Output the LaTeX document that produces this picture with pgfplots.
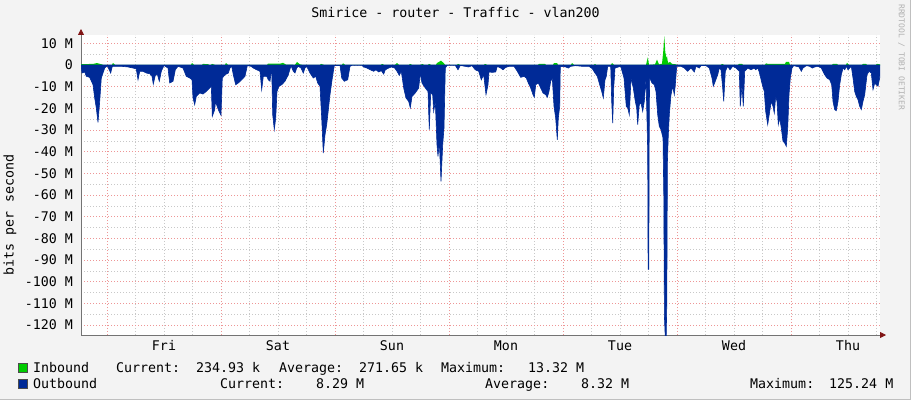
\documentclass[border=0pt]{standalone}
\usepackage{fontspec}
\setmonofont{DejaVu Sans Mono}
\usepackage{pgfplots}
\pgfplotsset{compat=1.18}
\usetikzlibrary{arrows.meta}
\definecolor{ingreen}{RGB}{0,204,0}
\definecolor{outblue}{RGB}{0,42,151}
\definecolor{bggray}{RGB}{243,243,243}
\definecolor{gridred}{RGB}{238,150,150}
\definecolor{gridgray}{RGB}{200,200,200}
\definecolor{arrred}{RGB}{128,20,20}
\newcommand{\rrd}{\fontsize{13.3}{15}\ttfamily}

\begin{document}
\begin{tikzpicture}[x=1pt,y=1pt]
\useasboundingbox (0,0) rectangle (911,400);
\fill[bggray] (0,0) rectangle (911,400);
\draw[black!25, line width=1.5pt] (0,0.75) -- (910.25,0.75) -- (910.25,400);
\node[font=\rrd] at (455.5,387) {Smirice - router - Traffic - vlan200};
\node[font=\rrd, rotate=90] at (10,185) {bits per second};
\node[font=\fontsize{8}{9}\ttfamily, text=black!30, rotate=-90, anchor=south west, inner sep=0pt] at (898,396) {RRDTOOL / TOBI OETIKER};

\begin{axis}[
  at={(81pt,65pt)}, anchor=south west,
  width=799pt, height=300pt, scale only axis,
  xmin=81, xmax=880, ymin=-124.6, ymax=13.85,
  axis background/.style={fill=white},
  axis lines=left,
  axis line style={draw=black!55, line width=0.8pt, shorten >=-6pt, -{Triangle[length=6pt,width=6pt,color=arrred]}},
  major tick length=0pt, minor tick length=0pt,
  xtick={164,278,392,506,620,734,848},
  xticklabels={Fri,Sat,Sun,Mon,Tue,Wed,Thu},
  minor xtick={135.5,164,192.5,249.5,278,306.5,363.5,392,420.5,477.5,506,534.5,591.5,620,648.5,705.5,734,762.5,819.5,848,876.5},
  extra x ticks={107,221,335,449,563,677,791},
  extra x tick labels={},
  extra x tick style={grid=major},
  xminorgrids=true,
  ytick={-120,-110,-100,-90,-80,-70,-60,-50,-40,-30,-20,-10,0,10},
  yticklabels={-120 M,-110 M,-100 M,-90 M,-80 M,-70 M,-60 M,-50 M,-40 M,-30 M,-20 M,-10 M,0,10 M},
  minor ytick={-115,-105,-95,-85,-75,-65,-55,-45,-35,-25,-15,-5,5},
  ymajorgrids=true, yminorgrids=true,
  major grid style={draw=gridred, line width=0.7pt, dash pattern=on 1pt off 2pt},
  minor grid style={draw=gridgray, line width=0.7pt, dash pattern=on 1pt off 2pt},
  tick label style={font=\rrd},
  yticklabel style={anchor=east, inner sep=0pt, xshift=-8pt},
  xticklabel style={anchor=base, inner sep=0pt, yshift=-15.5pt},
]
% inbound (M)
\addplot[draw=none, fill=ingreen] coordinates {
(81,0.4) (93,0.5) (97,0.9) (101,0.4) (103,0.1) (112,0.1) (113,0.9) (115,0.1)
(191,0.1) (192,0.9) (194,0.1) (202,0.1) (203,0.5) (208,0.4) (209,0.1) (211,0.1) (212,0.5) (215,0.1)
(225,0.1) (226,0.9) (228,0.1) (267,0.1) (268,0.6) (280,0.6) (283,1.0) (286,0.2) (295,0.1) (297,1.4) (300,0.3) (302,0.1)
(320,0.1) (321,0.5) (324,0.1) (342,0.1) (343,0.8) (345,0.1) (381,0.1) (382,0.5) (384,0.1)
(395,0.1) (397,0.9) (399,0.1) (409,0.1) (410,0.5) (412,0.1) (421,0.1) (422,0.5) (424,0.1)
(428,0.1) (429,0.5) (431,0.1) (436,0.1) (437,0.9) (441,2.0) (444,0.8) (445,0.1)
(457,0.1) (458,0.5) (460,0.1) (484,0.1) (485,0.5) (487,0.1)
(538,0.1) (539,0.5) (545,0.5) (546,0.1) (553,0.1) (554,0.9) (557,0.9) (558,0.1) (571,0.1) (572,0.9) (574,0.1)
(594,0.1) (595,0.5) (596,0.1) (611,0.1) (612,0.9) (614,0.1)
(646,0.1) (647,2.0) (647.8,3.5) (649,0.1) (655,0.3) (657,2.5) (659,0.3) (662,0.6) (663.2,6) (664.3,13.3) (665.3,6) (666.5,3) (667,4) (668,1) (670,1.4) (672,0.5) (675,0.4) (677,0.1)
(721,0.1) (722,0.5) (724,0.1) (738,0.1) (739,0.5) (742,0.5) (743,0.1)
(765,0.1) (766,0.8) (768,0.5) (785,0.5) (786,1.4) (789,1.4) (790,0.1)
(832,0.1) (833,0.5) (837,0.5) (838,0.1) (846,0.1) (847,1.0) (849,0.1)
(862,0.1) (863,0.5) (866,0.5) (867,0.1) (876,0.1) (877,0.5) (880,0.3) (880,0)
} \closedcycle;
% outbound (M, drawn negative)
\addplot[draw=outblue, line width=0.6pt, fill=outblue] coordinates {
(81,0) (81.5,-1.5) (82,-3.7) (84.7,-3.2) (86.3,-5.2) (89.7,-5.7) (93,-9.1) (94.7,-15.2) (96.3,-19.8) (98,-26.5) (99.7,-16.8) (101.3,-6) (104.7,-1.4) (107.3,-0.3)
(110.7,-3.7) (112.3,-0.6) (121.3,-0.6) (128,-0.9) (133,-1.4) (136.3,-1.8) (138,-6.8) (139.7,-2.9) (143,-2.9) (146.3,-3.7) (149.7,-4) (152,-5.2) (153.3,-8.8) (155.3,-4.8) (157.3,-4.2) (159.3,-7.5) (161.3,-2.9) (164,-0.2)
(168,-1.4) (169.7,-8.3) (173,-7.5) (175.3,-2.2) (178,-0.6) (183,-1.4) (186.3,-5.2) (189.7,-6) (192,-6.8) (193,-15.2) (194.7,-18.3) (196.3,-14.5) (199.7,-12.9) (203,-13.4) (206.3,-12.2) (209.7,-10.6) (211.3,-9.8) (212.3,-23.7) (214.7,-20.6)
(215.5,-16.8) (218.3,-20.6) (221,-23.2) (222.3,-6) (225,-4.5) (228.3,-3.7) (230,-1.4) (231.7,-0.6) (233.3,-4.5) (235.7,-9.1) (238.3,-8.3) (241.7,-6.8) (245,-5.2) (247.3,-0.3)
(251,-0.6) (253.3,-1.4) (256.7,-2.2) (260,-2.9) (261.7,-11.4) (263.3,-5.2) (266.7,-5.2) (268.3,-6.8) (270,-7.5) (271.7,-1.4) (272.7,-22.9) (274.3,-29.8) (275.7,-24.5) (277,-12.2) (279,-9.8) (281.7,-9.1) (285,-7.5) (288.3,-4.5) (291,-0.3)
(293.3,-2.9) (295,-3.7) (296.7,-1.4) (298.3,-0.6) (301,-1.4) (303.3,-3.7) (305,-1.4) (306.7,-0.6) (310,-3.7) (313.3,-6) (315.7,-5.2) (317.7,-8.3) (320,-9.8) (321.7,-24.5) (323.3,-40.6) (325,-32.2) (326.7,-27.5) (330,-13.7) (332.3,-6) (334.3,-0.3)
(340,-0.2) (341.7,-6) (344.3,-7.5) (347.7,-6.8) (350,-0.6) (351.7,-0.2) (362,-0.2) (363.7,-0.9) (367,-1.4) (370.3,-2.2) (373.7,-2.9) (376,-2.2) (378.7,-3.2) (381.3,-2.6) (383.7,-4.2) (385.3,-2.2) (388.7,-1.4) (391.3,-0.9) (394.7,-1.4)
(397,-2.9) (399.3,-4.8) (401.3,-2.9) (403.7,-10.6) (406,-15.2) (408.7,-16.8) (410.3,-19.8) (412,-14.5) (415.3,-12.9) (418.7,-10.6) (420.3,-3.7) (422,-8.3) (425.3,-10.6) (428,-12.2) (429.3,-29.8) (430.7,-12.9) (432.7,-13.7) (433.7,-21.4) (435.3,-16.8)
(437,-36.8) (438,-42.2) (439.3,-35.2) (441,-53.7) (442.7,-36.8) (444,-29.1) (445.3,-1.4) (447,-0.2) (455.3,-0.2) (458,-2.2) (460.3,-0.2) (468.7,-0.9) (472,-0.3) (475.3,-2.2) (478.7,-2.9) (481.3,-6.8) (483.7,-4.5) (486,-13.7) (488,-9.1)
(489,-3.2) (492.3,-3.4) (495.7,-3.2) (497.3,-0.6) (500.7,-1.4) (503,-2.2) (505.7,-1.1) (509,-0.6) (514,-0.6) (517.3,-2.9) (520.7,-5.7) (524,-5.2) (526.3,-6) (528.3,-8.3) (530.7,-10.6) (533,-13.7) (534.3,-14.9) (535.7,-9.1) (538.3,-8.3)
(540.7,-10.6) (543,-12.9) (545.7,-13.7) (547.3,-14.9) (549,-12.2) (550.7,-7.5) (552.3,-6) (554,-19.1) (555.7,-24.5) (557.3,-34.5) (558.3,-24.5) (559.7,-19.1) (560.3,-0.6) (565.7,-0.9) (568.3,-1.4) (570.7,-0.6) (575.7,-0.3) (582.3,-0.6) (589,-0.6)
(592.3,-1.7) (595,-3.7) (597.3,-5.2) (599.7,-9.1) (601.7,-12.2) (603.3,-15.2) (605,-6.8) (606.3,-5.2) (607.7,-0.6) (610.7,-0.6) (611.7,-16.8) (612.7,-26.8) (613.7,-10.6) (615,-1.4) (620.7,-0.6) (624,-6) (626.3,-19.1)
(627.7,-19.8) (629.3,-22.9) (631,-6) (633.3,-10.6) (635.3,-16.8) (636.7,-19.8) (637.7,-27.5) (639.3,-18.3) (641,-17.5) (642.7,-21.4) (644.3,-16.8) (646,-6) (647,-25.2) (647.7,-40) (648.1,-94.3) (648.8,-94.3) (649.3,-20) (649.7,-6)
(652,-8.3) (654.3,-9.1) (656,-12.2) (657.7,-22.9) (659.3,-28.3) (661,-29.8) (663,-33.7) (663.8,-60) (664.4,-116) (665.2,-125.2) (666.2,-125.2) (666.8,-110) (667.4,-45) (668.3,-32.2) (669.3,-22.9) (671,-13.7) (672.7,-9.8) (674.3,-13.7) (675.3,-9.1) (676.7,-0.6)
(681,-0.6) (684.3,-1.4) (687.7,-2.9) (691,-1.4) (694.3,-3.2) (696,-0.6) (699.3,-1.4) (701,-0.3) (706,-0.3) (709.3,-1.4) (712,-6) (713.3,-9.8) (715.3,-7.5) (717.7,-4.5) (719.3,-1.4) (721,-2.2) (722.7,-10.6) (723.7,-16.8) (725.3,-2.9) (727.7,-0.6)
(730,-2.2) (732.7,-0.6) (736,-1.4) (739.3,-2.9) (740.3,-19.1) (742,-9.1) (743.3,-19.1) (744.7,-2.9) (747.7,-1.4) (751,-2.2) (754.3,-1.4) (755.7,-2.2) (757.7,-1.4) (759,-2.9) (760.3,-5.2) (762.3,-9.1) (764.3,-12.2) (765.7,-21.4) (767.7,-27.5)
(769.7,-21.4) (771.3,-16.8) (773,-19.1) (774.3,-22.2) (775.7,-14.5) (777,-16.8) (778.3,-27.5) (779.7,-24.5) (781.3,-29.1) (783,-35.2) (784.7,-36) (786.3,-37.5) (787.7,-29.1) (789,-13.7) (790.3,-6) (792,-1.4) (793.7,-0.3)
(796.3,-0.6) (799,-0.9) (801.3,-2.9) (803,-1.4) (806.3,-0.3) (809.7,-0.6) (812.3,-1.4) (814.7,-0.9) (818,-0.6) (821.3,-1.4) (824.7,-4.5) (827,-6) (829.7,-6.8) (831.7,-9.1) (833,-16.8) (834.7,-20.6) (836.3,-21.1) (838,-16.8) (839.7,-9.1) (841.3,-4.5)
(843,-1.4) (844.7,-2.2) (846.3,-0.6) (848,-2.2) (849.7,-1.4) (851.3,-0.6) (853,-6) (854.7,-12.2) (856.3,-14.5) (858,-16) (859.7,-19.1) (861.3,-20.6) (863,-16.8) (864.7,-13.7) (867,-4.5) (869,-2.9) (871.3,-3.7) (873,-11.4) (874.7,-8.3) (876.3,-9.1)
(878,-9.8) (879.7,-6) (880,0)
} \closedcycle;
\end{axis}

% legend
\fill[ingreen, draw=black!70, line width=0.6pt] (18,27.5) rectangle (27,36.5);
\fill[outblue, draw=black!70, line width=0.6pt] (18,11.5) rectangle (27,20.5);
\begin{scope}[every node/.style={font=\rrd, anchor=base west, inner sep=0pt}]
\node at (33,27.5) {Inbound};
\node at (116,27.5) {Current:};
\node at (196,27.5) {234.93 k};
\node at (279,27.5) {Average:};
\node at (359,27.5) {271.65 k};
\node at (441,27.5) {Maximum:};
\node at (528,27.5) {13.32 M};
\node at (33,11.5) {Outbound};
\node at (220,11.5) {Current:};
\node at (316,11.5) {8.29 M};
\node at (485,11.5) {Average:};
\node at (581,11.5) {8.32 M};
\node at (750,11.5) {Maximum:};
\node at (829,11.5) {125.24 M};
\end{scope}
\end{tikzpicture}
\end{document}
